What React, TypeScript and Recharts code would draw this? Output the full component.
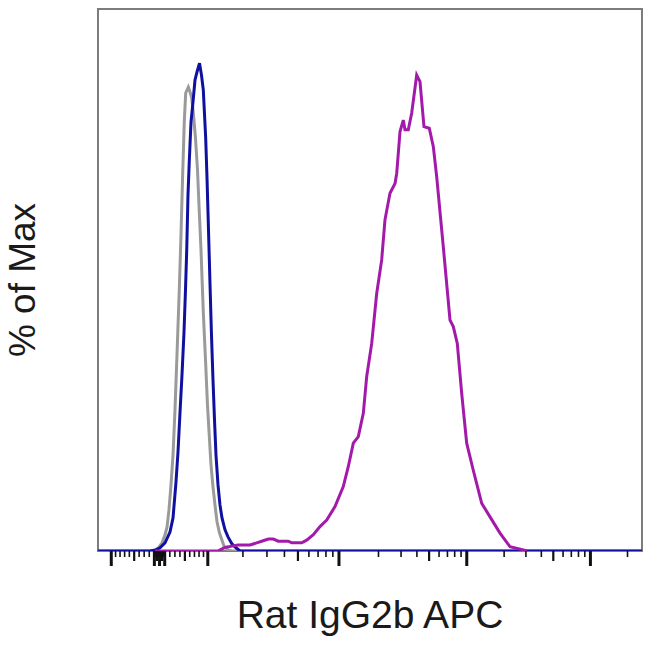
import { LineChart, Line, XAxis, YAxis, ReferenceArea } from 'recharts';

// x values are display channels (0-1024) on a logicle (biexponential) axis, y is % of max
const isoX = [0, 98, 107.3, 113.9, 120.5, 126.1, 129.9, 133.6, 137.4, 141.2, 144.9, 148.7, 153.0, 156.2, 159.1, 162.4, 165.1, 170.0, 173.2, 176.4, 179.8, 183.5, 187.3, 190.1, 193.9, 198.2, 202.4, 206.1, 209.9, 212.7, 216.5, 220.2, 224.0, 228.7, 233.4, 237.2, 244.7, 252.2, 1024];
const isoY = [0, 0, 0.2, 0.6, 1.5, 3.0, 4.4, 7.6, 12.2, 17.7, 26.0, 36.2, 48.2, 58.3, 68.5, 79.2, 84.5, 85.6, 84.7, 83.6, 80.4, 76.2, 70.3, 63.8, 55.5, 44.1, 35.2, 26.9, 20.5, 15.9, 11.8, 8.5, 5.4, 3.3, 2.0, 0.9, 0.2, 0, 0];

const unstainedX = [0, 97.9, 109.2, 116.7, 126.1, 135.5, 141.2, 146.8, 150.6, 154.4, 158.1, 161.9, 164.7, 167.0, 169.4, 171.9, 175.1, 178.8, 182.6, 186.4, 191.1, 194.8, 198.2, 202.7, 205.2, 208.0, 210.8, 213.6, 216.5, 219.3, 222.1, 225.9, 229.6, 233.4, 239.1, 244.7, 252.2, 259.8, 267.3, 1024];
const unstainedY = [0, 0, 0.2, 0.6, 1.5, 3.5, 6.1, 12.7, 18.3, 25.6, 32.5, 40.4, 48.2, 55.5, 65.7, 72.1, 79.2, 82.8, 86.9, 88.4, 90.0, 87.8, 85.1, 76.2, 68.8, 59.2, 49.4, 39.9, 31.5, 24.2, 17.7, 12.2, 8.5, 6.1, 3.9, 2.6, 1.3, 0.6, 0, 0];

const stainedX = [107.3, 225.9, 233.4, 240.9, 252.2, 263.5, 286.1, 298.7, 308.1, 320.6, 330.0, 339.4, 358.2, 364.6, 383.4, 392.8, 405.3, 417.9, 430.5, 446.1, 461.7, 471.2, 480.6, 490.0, 499.4, 505.8, 515.2, 524.6, 534.0, 540.2, 549.6, 559.1, 562.3, 568.5, 574.7, 577.9, 584.1, 590.5, 599.9, 606.1, 613.6, 623.6, 631.2, 637.5, 650.0, 662.6, 668.8, 676.3, 684.6, 694.0, 706.4, 722.3, 737.9, 756.7, 775.5, 800.6, 807.5];
const stainedY = [0, 0, 0.4, 0.7, 0.9, 1.1, 1.1, 1.5, 1.8, 2.2, 2.2, 1.8, 1.8, 1.5, 1.5, 2.0, 3.0, 4.5, 5.7, 8.2, 11.9, 15.6, 19.9, 21.1, 25.4, 32.2, 38.3, 47.5, 53.7, 61.1, 66.0, 67.8, 69.7, 77.4, 79.5, 77.7, 77.7, 80.8, 87.8, 86.6, 78.3, 78.0, 74.6, 69.1, 56.1, 42.6, 41.4, 38.3, 29.1, 19.9, 14.9, 8.8, 6.3, 3.3, 0.8, 0.2, 0];

// axis decades (fluorescence units)
const majorTicks = [-100, -10, 0, 10, 100, 1000, 10000, 100000];
const minorSteps = [2, 3, 4, 5, 6, 7, 8, 9];
const minorDecades = [1, 10, 100, 1000, 10000, 100000];

const xLabel = 'Rat IgG2b APC';
const yLabel = '% of Max';

// logicle parameters
const T = 262144;
const M = 4.42;
const W = 0.5;

function solveP(w: number) {
  let lo = 1;
  let hi = 10;
  for (let i = 0; i < 80; i++) {
    const mid = (lo + hi) / 2;
    const f = (2 * mid * Math.log10(mid)) / (mid + 1);
    if (f < w) lo = mid;
    else hi = mid;
  }
  return (lo + hi) / 2;
}
const P = solveP(W);

function logicleInv(x: number): number {
  const y = x - W;
  if (y < 0) return -logicleInv(2 * W - x);
  return T * Math.pow(10, -(M - W)) * (Math.pow(10, y) - P * P * Math.pow(10, -y / P) + P * P - 1);
}

function toChannel(v: number) {
  let lo = -2;
  let hi = M + 2;
  for (let i = 0; i < 80; i++) {
    const mid = (lo + hi) / 2;
    if (logicleInv(mid) < v) lo = mid;
    else hi = mid;
  }
  return ((lo + hi) / 2 / M) * 1024;
}

type TickInfo = { ch: number; kind: 'major' | 'mid' | 'minor' };
const tickInfo: TickInfo[] = [];
majorTicks.forEach((v) => tickInfo.push({ ch: toChannel(v), kind: 'major' }));
minorDecades.forEach((d) => {
  minorSteps.forEach((m) => {
    const kind = m === 5 ? 'mid' : 'minor';
    tickInfo.push({ ch: toChannel(m * d), kind });
    if (d <= 10) tickInfo.push({ ch: toChannel(-m * d), kind });
  });
});
const ticks = tickInfo.filter((t) => t.ch >= 0 && t.ch <= 1024);
const tickChannels = ticks.map((t) => t.ch);

const toPoints = (xs: number[], ys: number[]) => xs.map((x, i) => ({ x, y: ys[i] }));
const isoData = toPoints(isoX, isoY);
const unstainedData = toPoints(unstainedX, unstainedY);
const stainedData = toPoints(stainedX, stainedY);

const FONT = '"Liberation Sans", Arial, sans-serif';

function renderTick(props: any) {
  const { x, y, payload } = props;
  const t = ticks.find((k) => Math.abs(k.ch - payload.value) < 1e-6);
  const kind = t ? t.kind : 'minor';
  const len = kind === 'major' ? 15 : kind === 'mid' ? 10 : 6;
  const w = kind === 'major' ? 3 : kind === 'mid' ? 2.2 : 1.6;
  return <line x1={x} x2={x} y1={y} y2={y + len} stroke="#111" strokeWidth={w} />;
}

function renderXLabel(props: any) {
  const vb = props.viewBox;
  return (
    <text x={vb.x + vb.width / 2} y={vb.y + 77} textAnchor="middle" fontFamily={FONT} fontSize={39} fill="#1a1a1a">
      {xLabel}
    </text>
  );
}

export default function App() {
  return (
    <div style={{ position: 'absolute', left: 0, top: 0, width: 650, height: 645, background: '#fff' }}>
      <LineChart width={650} height={645} margin={{ top: 9, right: 8, bottom: 64, left: 98 }}>
        <XAxis
          type="number"
          dataKey="x"
          domain={[0, 1024]}
          ticks={tickChannels}
          interval={0}
          tickSize={0}
          tickMargin={0}
          axisLine={false}
          tickLine={false}
          tick={renderTick}
          height={30}
          allowDataOverflow
          label={renderXLabel}
        />
        <YAxis type="number" domain={[0, 100]} hide allowDataOverflow />
        <ReferenceArea x1={0} x2={1024} y1={0} y2={100} fill="none" stroke="#7c7c7c" strokeWidth={2} ifOverflow="visible" />
        <Line data={isoData} dataKey="y" type="linear" stroke="#9a9a9a" strokeWidth={3} dot={false} activeDot={false} isAnimationActive={false} />
        <Line data={unstainedData} dataKey="y" type="linear" stroke="#1010a0" strokeWidth={3} dot={false} activeDot={false} isAnimationActive={false} />
        <Line data={stainedData} dataKey="y" type="linear" stroke="#a31aab" strokeWidth={3} dot={false} activeDot={false} isAnimationActive={false} />
      </LineChart>
      <svg width={650} height={645} style={{ position: 'absolute', left: 0, top: 0, pointerEvents: 'none' }}>
        <text x={35} y={280} transform="rotate(-90, 35, 280)" textAnchor="middle" fontFamily={FONT} fontSize={37} fill="#1a1a1a">
          {yLabel}
        </text>
      </svg>
    </div>
  );
}
